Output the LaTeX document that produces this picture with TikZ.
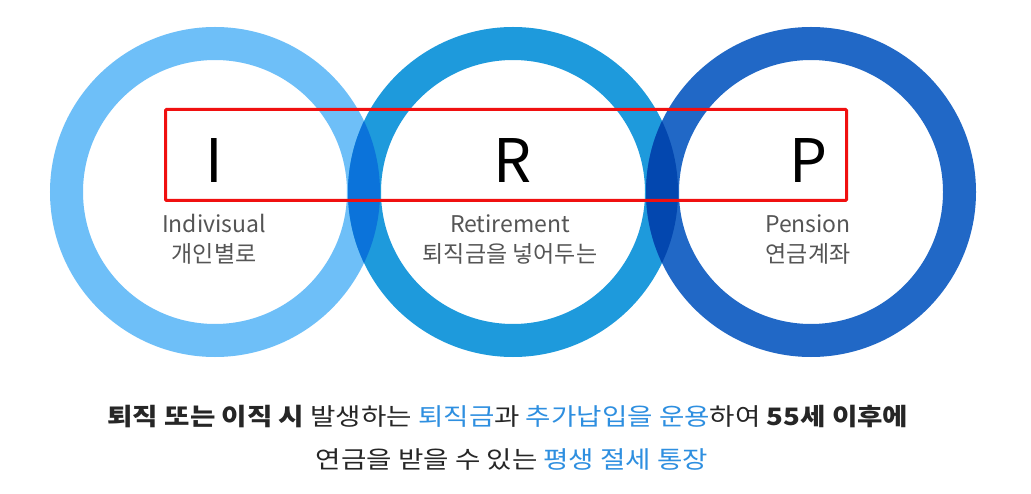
\documentclass[tikz,border=0pt]{standalone}
\usepackage{fontspec}
\setmainfont{Noto Sans CJK KR}
\newfontfamily\capfont[FakeStretch=1.15]{Noto Sans CJK KR}
\usetikzlibrary{positioning}
\definecolor{irpSky}{HTML}{6EBFF8}
\definecolor{irpCyan}{HTML}{1E9ADC}
\definecolor{irpBlue}{HTML}{2168C6}
\definecolor{irpMixA}{HTML}{0B73DA}
\definecolor{irpMixB}{HTML}{0347AF}
\definecolor{irpRed}{HTML}{F01010}
\definecolor{irpGray}{HTML}{555555}
\definecolor{irpText}{HTML}{2E8FE0}
\newcommand{\hl}[1]{\textcolor{irpText}{#1}}

\begin{document}
\begin{tikzpicture}[x=1pt,y=-1pt,
 ring/.style={circle,line width=33pt,minimum size=297pt,inner sep=0pt},
 letter/.style={anchor=base,font=\fontsize{60}{60}\selectfont,text=black},
 sub/.style={anchor=base,font=\fontsize{23}{23}\selectfont,text=irpGray},
 note/.style={anchor=base,font=\capfont\fontsize{24}{24}\selectfont,text=black!85}]
\useasboundingbox[fill=white] (0,0) rectangle (1031,494);
% three rings
\node[ring,draw=irpSky] (ringI) at (215,192) {};
\node[ring,draw=irpCyan] (ringR) at (513,192) {};
\node[ring,draw=irpBlue] (ringP) at (811,192) {};
% overlaps
\begin{scope}
 \clip (ringI.center) circle[radius=165pt];
 \draw[irpMixA,line width=33pt] (ringR.center) circle[radius=148.5pt];
\end{scope}
\begin{scope}
 \clip (ringI.center) circle[radius=132pt];
 \draw[irpCyan,line width=33pt] (ringR.center) circle[radius=148.5pt];
\end{scope}
\begin{scope}
 \clip (ringR.center) circle[radius=165pt];
 \draw[irpMixB,line width=33pt] (ringP.center) circle[radius=148.5pt];
\end{scope}
\begin{scope}
 \clip (ringR.center) circle[radius=132pt];
 \draw[irpBlue,line width=33pt] (ringP.center) circle[radius=148.5pt];
\end{scope}
% red frame
\node[draw=irpRed,line width=3pt,rounded corners=1pt,minimum width=681pt,
  minimum height=91pt,inner sep=0pt] (frame) at (506,155) {};
% letters
\node[letter] (letI) at (214,183) {I};
\node[letter] (letR) at (513,183) {R};
\node[letter] (letP) at (808,183) {P};
% labels
\node[sub] (engI) at (214,233) {Indivisual};
\node[sub] (korI) at (214,263) {개인별로};
\node[sub] (engR) at (510,233) {Retirement};
\node[sub] (korR) at (510,263) {퇴직금을 넣어두는};
\node[sub] (engP) at (808,233) {Pension};
\node[sub] (korP) at (808,263) {연금계좌};
% caption
\node[note] (line1) at (508,425) {\textbf{퇴직 또는 이직 시} 발생하는 \hl{퇴직금}과 \hl{추가납입을 운용}하여 \textbf{55세 이후에}};
\node[note] (line2) at (512,468) {연금을 받을 수 있는 \hl{평생 절세 통장}};
\end{tikzpicture}
\end{document}
